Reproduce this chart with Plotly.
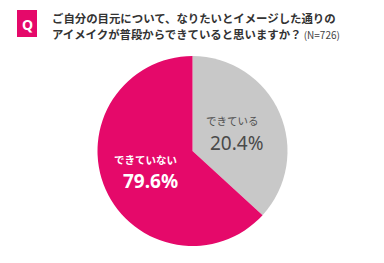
import plotly.graph_objects as go

# Data
categories = ["できている", "できていない"]
printed_pct = ["20.4%", "79.6%"]
slice_share = [36.8, 63.2]  # slice sizes as drawn in the picture
colors = ["#c8c8c8", "#e5096a"]
title_line1 = "ご自分の目元について、なりたいとイメージした通りの"
title_line2 = "アイメイクが普段からできていると思いますか？"
n_text = "(N=726)"

W, H = 384, 263
font_jp = "Noto Sans CJK JP"

fig = go.Figure()
fig.add_trace(go.Pie(
    labels=categories,
    values=slice_share,
    sort=False,
    direction="clockwise",
    rotation=0,
    marker=dict(colors=colors, line=dict(width=0)),
    textinfo="none",
    hoverinfo="label",
    showlegend=False,
    domain=dict(x=[97 / W, 288 / W], y=[1 - 246 / H, 1 - 56 / H]),
))

def px(x):
    return x / W

def py(y):
    return 1 - y / H

annotations = [
    dict(x=px(232), y=py(120.5), text=categories[0], font=dict(size=10.5, color="#505050", family=font_jp)),
    dict(x=px(237), y=py(143), text=printed_pct[0], font=dict(size=19, color="#4a4a4a", family="Noto Sans")),
    dict(x=px(145), y=py(159.5), text="<b>" + categories[1] + "</b>", font=dict(size=10.5, color="#ffffff", family=font_jp)),
    dict(x=px(150), y=py(181), text="<b>" + printed_pct[1] + "</b>", font=dict(size=19, color="#ffffff", family="Noto Sans")),
    dict(x=px(27), y=py(24), text="<b>Q</b>", font=dict(size=14, color="#ffffff", family="Noto Sans")),
    dict(x=px(51), y=py(18.5), text="<b>" + title_line1 + "</b>", xanchor="left",
         font=dict(size=11.4, color="#333333", family=font_jp)),
    dict(x=px(51), y=py(34), text="<b>" + title_line2 + "</b>" + "<span style='font-size:10px;font-weight:normal;fill:#444444'> " + n_text + "</span>",
         xanchor="left", font=dict(size=11.4, color="#333333", family=font_jp)),
]
for a in annotations:
    a.setdefault("xanchor", "center")
    a.update(xref="paper", yref="paper", yanchor="middle", showarrow=False, borderpad=0)

fig.update_layout(
    width=W, height=H,
    margin=dict(l=0, r=0, t=0, b=0),
    paper_bgcolor="#ffffff",
    plot_bgcolor="#ffffff",
    annotations=annotations,
    shapes=[dict(type="rect", xref="paper", yref="paper",
                 x0=px(17), x1=px(37), y0=py(37), y1=py(10),
                 fillcolor="#e5096a", line=dict(width=0), layer="below")],
)

fig.write_html("out.html")
